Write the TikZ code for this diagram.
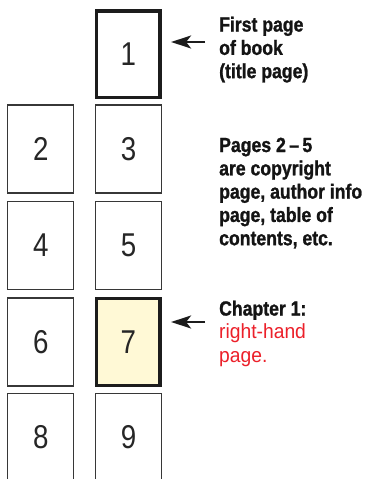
\documentclass[tikz,border=0pt]{standalone}
\usepackage{fontspec}
\usetikzlibrary{arrows.meta}
\newfontfamily\lblfont[FakeStretch=0.86, BoldFeatures={FakeBold=1.2}]{Liberation Sans}
\newfontfamily\redfont[FakeStretch=0.94]{Liberation Sans}
\newfontfamily\numfont[FakeStretch=0.84]{Liberation Sans}
\definecolor{chapred}{RGB}{236,32,42}
\definecolor{pagefill}{RGB}{255,249,214}
\definecolor{thinline}{RGB}{55,55,55}
\definecolor{thickline}{RGB}{28,28,28}
\begin{document}
\begin{tikzpicture}[x=1pt,y=-1pt,
  pagebox/.style={draw=thinline, line width=1.3pt, fill=white, inner sep=0pt,
    minimum width=66pt, minimum height=88pt,
    font=\numfont\fontsize{33}{36}\selectfont, text=black!85},
  keypage/.style={pagebox, draw=thickline, line width=3.3pt,
    minimum width=63.3pt, minimum height=86.8pt},
  lbl/.style={inner sep=0pt, align=left, anchor=north west,
    font=\lblfont\bfseries\fontsize{20.5}{23.3}\selectfont, text=black!92},
  arr/.style={-{Stealth[length=20pt,width=13pt,inset=5pt]}, line width=2.2pt, draw=thickline}
]
\useasboundingbox (0,0) rectangle (367,479);
\fill[white] (0,0) rectangle (367,479);
\begin{scope}
\clip (0,0) rectangle (367,479);
% pages
\node[keypage] (p1) at (128.3,54.3) {1};
\node[pagebox] (p2) at (40.75,149) {2};
\node[pagebox] (p3) at (128.5,149) {3};
\node[pagebox] (p4) at (40.75,245.5) {4};
\node[pagebox] (p5) at (128.5,245.5) {5};
\node[pagebox] (p6) at (40.75,342) {6};
\node[keypage, fill=pagefill] (p7) at (128.3,342) {7};
\node[pagebox] (p8) at (40.75,437.5) {8};
\node[pagebox] (p9) at (128.5,437.5) {9};
\end{scope}
% labels
\node[lbl] (t1) at (219,16.5) {First page\\of book\\(title page)};
\node[lbl] (t2) at (219,137.5) {Pages 2\,–\,5\\are copyright\\page, author info\\page, table of\\contents, etc.};
\node[lbl] (t3) at (219,300.5) {Chapter 1:\\{\redfont\mdseries\color{chapred}right-hand}\\{\redfont\mdseries\color{chapred}page.}};
% arrows
\coordinate (a1) at (205,42);
\coordinate (a2) at (205,322);
\draw[arr, shorten >=9.5pt] (a1) -- (a1 -| p1.east);
\draw[arr, shorten >=9.5pt] (a2) -- (a2 -| p7.east);
\end{tikzpicture}
\end{document}
